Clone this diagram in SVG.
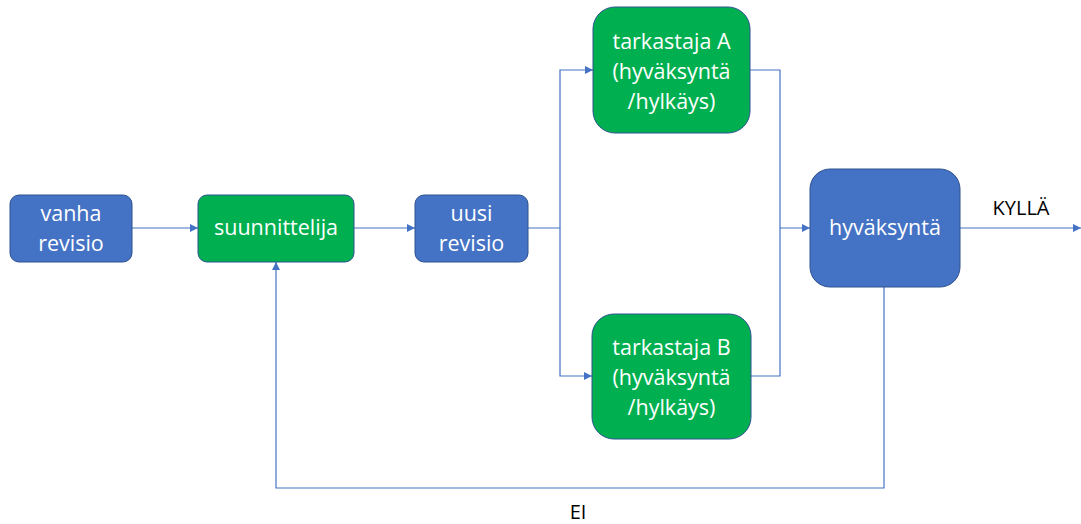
<svg xmlns="http://www.w3.org/2000/svg" width="1081" height="524" viewBox="0 0 1081 524">
<style>
.blue{fill:#4472C4;stroke:#2F528F;stroke-width:1}
.green{fill:#00B050;stroke:#2F528F;stroke-width:1}
.t{font-family:"Open Sans","Noto Sans",sans-serif;font-size:21.5px;fill:#fff;text-anchor:middle}
.k{font-family:"Open Sans","Noto Sans",sans-serif;font-size:20px;fill:#000;text-anchor:middle}
.c{fill:none;stroke:#4472C4;stroke-width:1.2}
</style>
<defs>
<marker id="a" viewBox="0 0 10 10" refX="10" refY="5" markerWidth="8" markerHeight="8" markerUnits="userSpaceOnUse" orient="auto">
<path d="M0,0L10,5L0,10z" fill="#4472C4"/>
</marker>
</defs>
<rect width="1081" height="524" fill="#fff"/>
<g id="connectors">
<path class="c" d="M132,228H198" marker-end="url(#a)"/>
<path class="c" d="M354,228H415" marker-end="url(#a)"/>
<path class="c" d="M528,228H560V70H593" marker-end="url(#a)"/>
<path class="c" d="M560,228V376H592" marker-end="url(#a)"/>
<path class="c" d="M750,70H780V228H810" marker-end="url(#a)"/>
<path class="c" d="M751,376H780V228"/>
<path class="c" d="M960,228H1081" marker-end="url(#a)"/>
<path class="c" d="M884,287V488H276V262" marker-end="url(#a)"/>
<text class="k" x="1021" y="215">KYLLÄ</text>
<text class="k" x="578" y="519">EI</text>
</g>
<g id="vanha">
<rect class="blue" x="10" y="195" width="122" height="67" rx="9"/>
<text class="t" x="71" y="221">vanha</text>
<text class="t" x="71" y="251">revisio</text>
</g>
<g id="suunnittelija">
<rect class="green" x="198" y="195" width="156" height="67" rx="9"/>
<text class="t" x="276" y="235">suunnittelija</text>
</g>
<g id="uusi">
<rect class="blue" x="415" y="195" width="113" height="67" rx="9"/>
<text class="t" x="471.5" y="221">uusi</text>
<text class="t" x="471.5" y="251">revisio</text>
</g>
<g id="tarkastajaA">
<rect class="green" x="593" y="7" width="157" height="126" rx="22"/>
<text class="t" x="671.5" y="49">tarkastaja A</text>
<text class="t" x="671.5" y="79">(hyväksyntä</text>
<text class="t" x="671.5" y="109">/hylkäys)</text>
</g>
<g id="tarkastajaB">
<rect class="green" x="592" y="314" width="159" height="125" rx="22"/>
<text class="t" x="671.5" y="355">tarkastaja B</text>
<text class="t" x="671.5" y="385">(hyväksyntä</text>
<text class="t" x="671.5" y="415">/hylkäys)</text>
</g>
<g id="hyvaksynta">
<rect class="blue" x="810" y="169" width="150" height="118" rx="20"/>
<text class="t" x="885" y="235">hyväksyntä</text>
</g>
</svg>
